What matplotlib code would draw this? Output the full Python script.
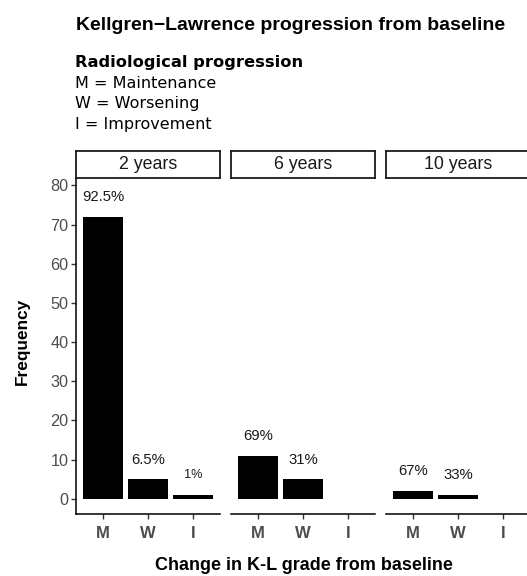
import matplotlib.pyplot as plt

W, H = 527, 576

periods = ["2 years", "6 years", "10 years"]
categories = ["M", "W", "I"]
counts_2y = [72, 5, 1]
counts_6y = [11, 5, 0]
counts_10y = [2, 1, 0]
labels_2y = ["92.5%", "6.5%", "1%"]
labels_6y = ["69%", "31%", ""]
labels_10y = ["67%", "33%", ""]

counts = [counts_2y, counts_6y, counts_10y]
labels = [labels_2y, labels_6y, labels_10y]

SANS = "Liberation Sans"
GREY = "#4D4D4D"


def px_rect(left, top, right, bottom):
    return [left / W, 1 - bottom / H, (right - left) / W, (bottom - top) / H]


def main():
    fig = plt.figure(figsize=(W / 100, H / 100), dpi=100)

    panel_x = [(76, 220), (231, 375), (386, 530)]
    top, bottom = 178, 514
    strip_top = 151

    for i, (x0, x1) in enumerate(panel_x):
        ax = fig.add_axes(px_rect(x0, top, x1, bottom))
        xs = list(range(1, len(categories) + 1))
        ax.bar(xs, counts[i], width=0.9, color="black", linewidth=0)
        for x, v, lab in zip(xs, counts[i], labels[i]):
            if lab:
                ax.text(x, v + 5, lab, ha="center", va="center",
                        fontsize=9.2 if lab == "1%" else 10.7, family=SANS, color="#1A1A1A")
        ax.set_xlim(0.4, 3.6)
        ax.set_ylim(-3.9, 81.9)
        ax.set_xticks(xs)
        ax.set_xticklabels(categories, fontsize=12, fontweight="bold", family=SANS, color=GREY)
        ax.set_yticks(range(0, 81, 10))
        for s in ["top", "right"]:
            ax.spines[s].set_visible(False)
        ax.spines["bottom"].set_linewidth(1.1)
        ax.spines["left"].set_linewidth(1.1)
        ax.tick_params(axis="x", length=3.5, width=1, color="#333333", pad=5.5)
        if i == 0:
            ax.set_yticklabels([str(t) for t in range(0, 81, 10)], fontsize=11.7,
                               family=SANS, color=GREY)
            ax.tick_params(axis="y", length=3.5, width=1, color="#333333", pad=2)
        else:
            ax.spines["left"].set_visible(False)
            ax.tick_params(axis="y", left=False, labelleft=False)

        # facet strip
        sax = fig.add_axes(px_rect(x0, strip_top, x1, top))
        sax.set_xticks([])
        sax.set_yticks([])
        for s in sax.spines.values():
            s.set_linewidth(1.3)
            s.set_color("#1A1A1A")
        sax.text(0.5, 0.5, periods[i], ha="center", va="center", fontsize=12.8,
                 family=SANS, color="#1A1A1A", transform=sax.transAxes)

    # titles and legend-like caption
    fig.text(76 / W, 1 - 25 / H, "Kellgren\u2212Lawrence progression from baseline",
             fontsize=14, fontweight="bold", family=SANS, ha="left", va="center")
    fig.text(75 / W, 1 - 62 / H, "Radiological progression", fontsize=11.7,
             fontweight="bold", family="DejaVu Sans", ha="left", va="center")
    for j, line in enumerate(["M = Maintenance", "W = Worsening", "I = Improvement"]):
        fig.text(75 / W, 1 - (83 + 20.7 * j) / H, line, fontsize=11.5,
                 family="DejaVu Sans", ha="left", va="center")

    fig.text(304 / W, 1 - 566 / H, "Change in K-L grade from baseline", fontsize=13,
             fontweight="bold", family=SANS, ha="center", va="center")
    fig.text(22 / W, 1 - 341 / H, "Frequency", fontsize=12.4, fontweight="bold",
             family=SANS, ha="center", va="center", rotation=90)

    fig.savefig("out.png", dpi=100)
    plt.close(fig)


if __name__ == "__main__":
    main()
